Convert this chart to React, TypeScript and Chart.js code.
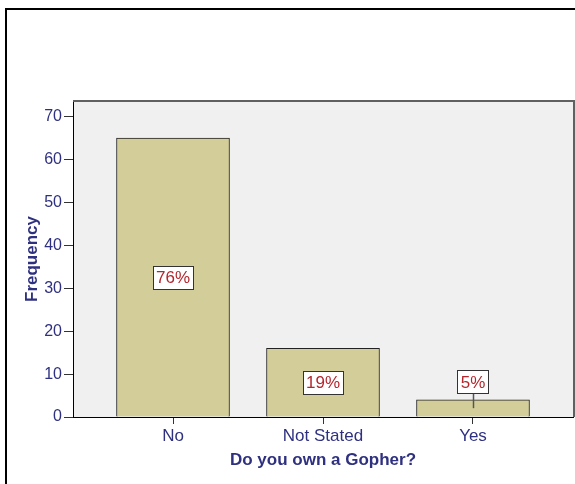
import React, { useEffect, useRef } from 'react';
import { Chart, registerables } from 'chart.js';

Chart.register(...registerables);

const categories = ['No', 'Not Stated', 'Yes'];
const frequencies = [65, 16, 4];
const yTicks = [0, 10, 20, 30, 40, 50, 60, 70];
const xPositions = [0, 1, 2];

const NAVY = '#2f3180';
const FONT = '"Liberation Sans", Arial, sans-serif';

const total = frequencies.reduce((a, b) => a + b, 0);
const percentLabels = frequencies.map((v) => Math.round((v / total) * 100) + '%');

const framePlugin = {
  id: 'framePlugin',
  beforeDraw(chart: any) {
    const { ctx, chartArea } = chart;
    ctx.save();
    ctx.strokeStyle = '#000';
    ctx.lineWidth = 2;
    ctx.strokeRect(6, 9, 700, 600);
    ctx.fillStyle = '#f0f0f0';
    ctx.fillRect(chartArea.left, chartArea.top, chartArea.right - chartArea.left, chartArea.bottom - chartArea.top);
    ctx.restore();
  },
  afterDatasetsDraw(chart: any) {
    const { ctx, chartArea } = chart;
    ctx.save();
    ctx.strokeStyle = '#606060';
    ctx.lineWidth = 2;
    ctx.beginPath();
    ctx.moveTo(chartArea.left, chartArea.top);
    ctx.lineTo(chartArea.right + 1, chartArea.top);
    ctx.lineTo(chartArea.right + 1, chartArea.bottom);
    ctx.stroke();

    const meta = chart.getDatasetMeta(0);
    ctx.font = '17px ' + FONT;
    ctx.textAlign = 'center';
    ctx.textBaseline = 'middle';
    meta.data.forEach((bar: any, i: number) => {
      const text = percentLabels[i];
      const tw = ctx.measureText(text).width;
      const w = Math.round(tw + 6);
      const h = 23;
      const barH = bar.base - bar.y;
      const midY = (bar.y + bar.base) / 2;
      let cy = midY;
      const outside = barH < h + 6;
      if (outside) {
        cy = bar.y - 6.5 - h / 2;
        ctx.strokeStyle = '#555';
        ctx.lineWidth = 1.5;
        ctx.beginPath();
        ctx.moveTo(Math.round(bar.x) + 0.5, cy + h / 2);
        ctx.lineTo(Math.round(bar.x) + 0.5, midY);
        ctx.stroke();
      }
      const bx = Math.round(bar.x - w / 2) + 0.5;
      const by = Math.round(cy - h / 2) + 0.5;
      ctx.fillStyle = '#ffffff';
      ctx.fillRect(bx, by, w, h);
      ctx.strokeStyle = '#333';
      ctx.lineWidth = 1;
      ctx.strokeRect(bx, by, w, h);
      ctx.fillStyle = '#b3262d';
      ctx.fillText(text, bar.x, cy + 1);
    });
    ctx.restore();
  },
};

export default function App() {
  const ref = useRef<HTMLCanvasElement>(null);
  useEffect(() => {
    if (!ref.current) return;
    const chart = new Chart(ref.current, {
      type: 'bar',
      data: {
        datasets: [
          {
            data: xPositions.map((x, i) => ({ x, y: frequencies[i] })),
            backgroundColor: '#d3ce99',
            borderColor: '#222',
            borderWidth: 1,
            barThickness: 113,
          },
        ],
      },
      options: {
        responsive: false,
        animation: false,
        devicePixelRatio: 1,
        layout: { padding: { left: 0, top: 101, right: 2, bottom: 0 } },
        plugins: { legend: { display: false }, tooltip: { enabled: false } },
        scales: {
          x: {
            type: 'linear',
            offset: false,
            min: -0.6667,
            max: 2.6667,
            afterBuildTicks: (scale: any) => {
              scale.ticks = xPositions.map((v) => ({ value: v }));
            },
            afterFit: (scale: any) => {
              scale.height = 67;
            },
            grid: { offset: false, drawOnChartArea: false, tickLength: 7, tickColor: '#333', tickWidth: 1 },
            border: { display: true, color: '#000', width: 1 },
            ticks: {
              color: NAVY,
              font: { family: FONT, size: 17 },
              padding: 2,
              autoSkip: false,
              maxRotation: 0,
              callback: (v: any) => categories[v as number] ?? '',
            },
            title: {
              display: true,
              text: 'Do you own a Gopher?',
              color: NAVY,
              font: { family: FONT, size: 17, weight: 'bold' },
              padding: { top: 0, bottom: 13 },
            },
          },
          y: {
            type: 'linear',
            min: 0,
            max: 73.66,
            afterBuildTicks: (scale: any) => {
              scale.ticks = yTicks.map((v) => ({ value: v }));
            },
            afterFit: (scale: any) => {
              scale.width = 73;
            },
            grid: { drawOnChartArea: false, tickLength: 9, tickColor: '#333', tickWidth: 1 },
            border: { display: true, color: '#000', width: 1 },
            ticks: {
              color: NAVY,
              font: { family: FONT, size: 16 },
              padding: 2,
            },
            title: {
              display: true,
              text: 'Frequency',
              color: NAVY,
              font: { family: FONT, size: 17, weight: 'bold' },
              padding: { top: 22, bottom: 0 },
            },
          },
        },
      },
      plugins: [framePlugin],
    } as any);
    return () => chart.destroy();
  }, []);
  return (
    <div style={{ position: 'fixed', left: 0, top: 0, width: 575, height: 484 }}>
      <canvas ref={ref} width={575} height={484} style={{ display: 'block', width: 575, height: 484 }} />
    </div>
  );
}
